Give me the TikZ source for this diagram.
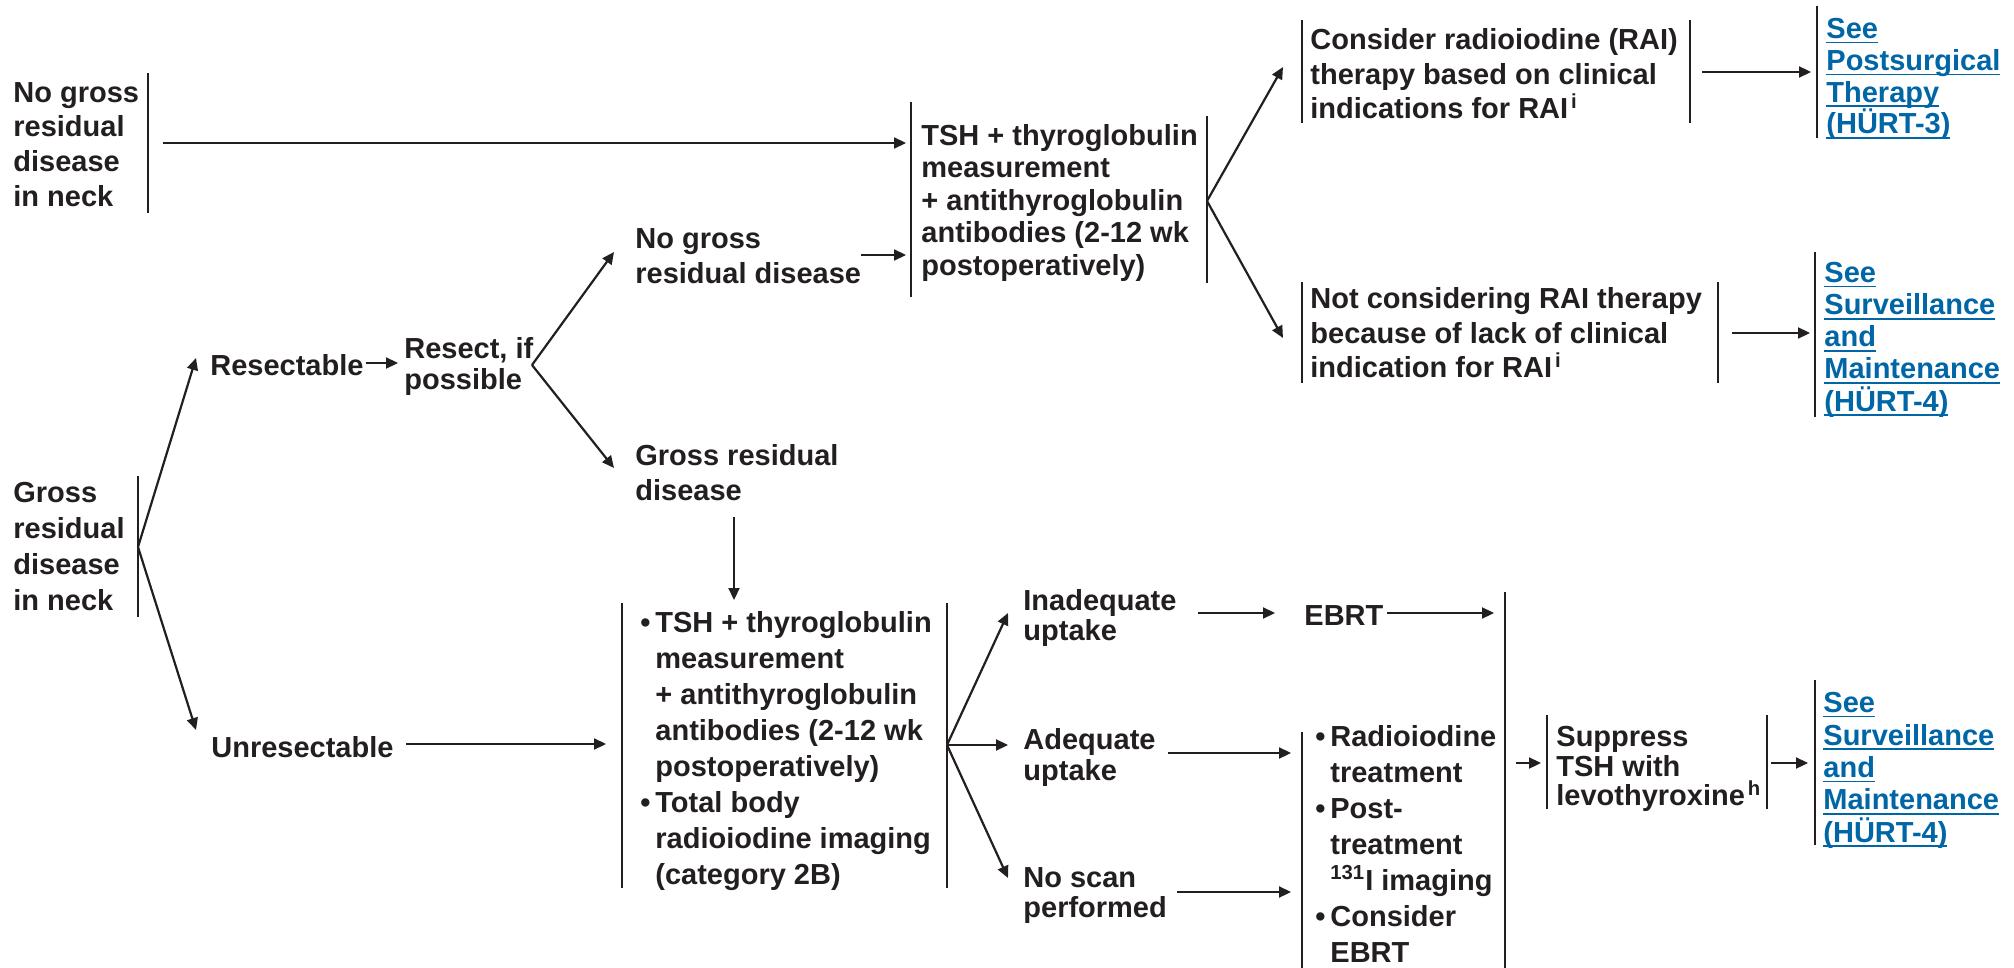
\documentclass[tikz,border=0pt]{standalone}
\usepackage{fontspec}
\setmainfont{Liberation Sans}
\usetikzlibrary{arrows.meta}
\definecolor{ink}{HTML}{231F20}
\definecolor{linkblue}{HTML}{0066A6}
% underlined link text
\newcommand\ulk[1]{\setbox0=\hbox{#1}\rlap{\rule[-2.4pt]{\wd0}{0.8pt}}\box0}
% hanging bullet
\newcommand\blt{\llap{\textbullet\hspace{2.5pt}}}
\newcommand\fnote[1]{\hspace{1.5pt}\textsuperscript{#1}}
\begin{document}
\begin{tikzpicture}[x=0.5pt,y=-0.5pt,
  txt/.style={anchor=north west, inner sep=0pt, align=left, text=ink,
    font=\fontsize{14.5pt}{#1}\selectfont\bfseries,
    execute at begin node={\rule{0pt}{11.5pt}}},
  txt/.default=16pt,
  lnk/.style={txt=#1, text=linkblue},
  lnk/.default=16pt,
  bar/.style={draw=ink, line width=1.1pt},
  arr/.style={draw=ink, line width=1.1pt, -{Triangle[length=6pt,width=5.5pt]}}]
\useasboundingbox (0,0) rectangle (2014,968);

% ---------- text nodes ----------
\node[txt=17.3pt] (nogross) at (13,82) {No gross\\residual\\disease\\in neck};
\node[txt=16.2pt] (tsh1) at (921,124) {TSH + thyroglobulin\\measurement\\+ antithyroglobulin\\antibodies (2-12 wk\\postoperatively)};
\node[txt=17.3pt] (consider) at (1310,28) {Consider radioiodine (RAI)\\therapy based on clinical\\indications for RAI\fnote{i}};
\node[lnk=15.85pt] (seepost) at (1826,18) {\ulk{See}\\\ulk{Postsurgical}\\\ulk{Therapy}\\\ulk{(HÜRT-3)}};
\node[txt=17.3pt] (notcons) at (1310,287) {Not considering RAI therapy\\because of lack of clinical\\indication for RAI\fnote{i}};
\node[lnk=16.05pt] (seesurv1) at (1824,262) {\ulk{See}\\\ulk{Surveillance}\\\ulk{and}\\\ulk{Maintenance}\\\ulk{(HÜRT-4)}};
\node[txt=17.5pt] (ngrd) at (635,228) {No gross\\residual disease};
\node[txt] (resectable) at (210,352) {Resectable};
\node[txt=15.4pt] (resect) at (404,337) {Resect, if\\possible};
\node[txt=18pt] (grossneck) at (13,482) {Gross\\residual\\disease\\in neck};
\node[txt] (unresect) at (211,734) {Unresectable};
\node[txt=17.5pt] (grd) at (635,444) {Gross residual\\disease};
\node[txt=18pt] (imaging) at (655,611) {\blt TSH + thyroglobulin\\measurement\\+ antithyroglobulin\\antibodies (2-12 wk\\postoperatively)\\\blt Total body\\radioiodine imaging\\(category 2B)};
\node[txt=15pt] (inad) at (1023,589) {Inadequate\\uptake};
\node[txt=15.5pt] (adeq) at (1023,728) {Adequate\\uptake};
\node[txt=15pt] (noscan) at (1023,867) {No scan\\performed};
\node[txt] (ebrt) at (1304,602) {EBRT};
\node[txt=18pt] (rai) at (1330,725) {\blt Radioiodine\\treatment\\\blt Post-\\treatment\\\textsuperscript{131}I imaging\\\blt Consider\\EBRT};
\node[txt=14.75pt] (suppress) at (1556,726) {Suppress\\TSH with\\levothyroxine\fnote{h}};
\node[lnk=16.2pt] (seesurv2) at (1823,692) {\ulk{See}\\\ulk{Surveillance}\\\ulk{and}\\\ulk{Maintenance}\\\ulk{(HÜRT-4)}};

% ---------- box edges ----------
\draw[bar] (148,73) -- (148,213);
\draw[bar] (911,102) -- (911,297);
\draw[bar] (1207,116) -- (1207,283);
\draw[bar] (1302,20) -- (1302,123);
\draw[bar] (1690,20) -- (1690,123);
\draw[bar] (1817,6) -- (1817,138);
\draw[bar] (1302,282) -- (1302,383);
\draw[bar] (1718,282) -- (1718,383);
\draw[bar] (1815,252) -- (1815,417);
\draw[bar] (138,476) -- (138,617);
\draw[bar] (622,603) -- (622,888);
\draw[bar] (947,603) -- (947,888);
\draw[bar] (1505,592) -- (1505,968);
\draw[bar] (1302,732) -- (1302,968);
\draw[bar] (1547,715) -- (1547,809);
\draw[bar] (1767,715) -- (1767,809);
\draw[bar] (1815,680) -- (1815,845);

% ---------- connector end points ----------
\coordinate (nogross-out) at (163,143);
\coordinate (tsh1-in) at (906,143);
\coordinate (ngrd-out) at (861,255);
\coordinate (tsh1-in2) at (906,255);
\coordinate (tsh1-out) at (1207,201);
\coordinate (consider-in) at (1283,67);
\coordinate (notcons-in) at (1283,338);
\coordinate (consider-out) at (1702,72);
\coordinate (seepost-in) at (1811,72);
\coordinate (notcons-out) at (1732,333);
\coordinate (seesurv1-in) at (1810,333);
\coordinate (grossneck-out) at (138,547);
\coordinate (resectable-in) at (196,358);
\coordinate (unresect-in) at (196,730);
\coordinate (resectable-out) at (366,363);
\coordinate (resect-in) at (398,363);
\coordinate (resect-out) at (532,365);
\coordinate (ngrd-in) at (614,252);
\coordinate (grd-in) at (614,468);
\coordinate (grd-out) at (734,517);
\coordinate (imaging-top) at (734,600);
\coordinate (unresect-out) at (406,744);
\coordinate (imaging-in) at (606,744);
\coordinate (imaging-out) at (947,745);
\coordinate (inad-in) at (1008,613);
\coordinate (adeq-in) at (1008,745);
\coordinate (noscan-in) at (1008,878);
\coordinate (inad-out) at (1198,613);
\coordinate (ebrt-in) at (1275,613);
\coordinate (ebrt-out) at (1387,613);
\coordinate (join-in) at (1494,613);
\coordinate (adeq-out) at (1168,753);
\coordinate (rai-in1) at (1291,753);
\coordinate (noscan-out) at (1177,892);
\coordinate (rai-in2) at (1291,892);
\coordinate (join-out) at (1516,763);
\coordinate (suppress-in) at (1541,763);
\coordinate (suppress-out) at (1771,763);
\coordinate (seesurv2-in) at (1808,763);

% ---------- connectors ----------
\draw[arr] (nogross-out) -- (tsh1-in);
\draw[arr] (ngrd-out) -- (tsh1-in2);
\draw[arr] (tsh1-out) -- (consider-in);
\draw[arr] (tsh1-out) -- (notcons-in);
\draw[arr] (consider-out) -- (seepost-in);
\draw[arr] (notcons-out) -- (seesurv1-in);
\draw[arr] (grossneck-out) -- (resectable-in);
\draw[arr] (grossneck-out) -- (unresect-in);
\draw[arr] (resectable-out) -- (resect-in);
\draw[arr] (resect-out) -- (ngrd-in);
\draw[arr] (resect-out) -- (grd-in);
\draw[arr] (grd-out) -- (imaging-top);
\draw[arr] (unresect-out) -- (imaging-in);
\draw[arr] (imaging-out) -- (inad-in);
\draw[arr] (imaging-out) -- (adeq-in);
\draw[arr] (imaging-out) -- (noscan-in);
\draw[arr] (inad-out) -- (ebrt-in);
\draw[arr] (ebrt-out) -- (join-in);
\draw[arr] (adeq-out) -- (rai-in1);
\draw[arr] (noscan-out) -- (rai-in2);
\draw[arr] (join-out) -- (suppress-in);
\draw[arr] (suppress-out) -- (seesurv2-in);
\end{tikzpicture}
\end{document}
